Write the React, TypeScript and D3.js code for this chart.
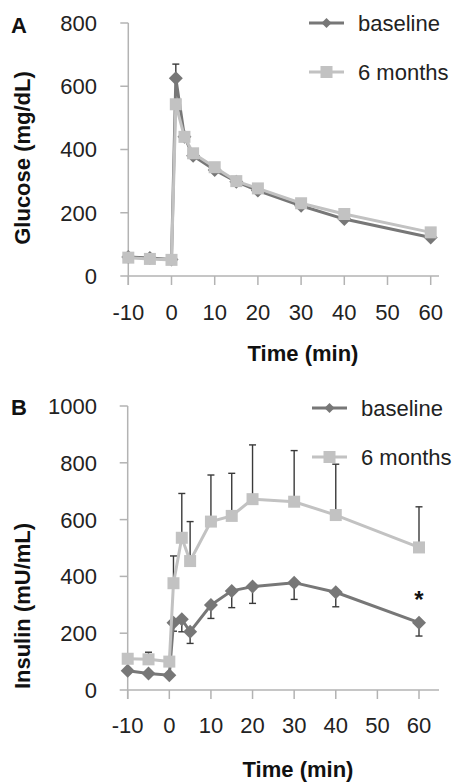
import React from "react";
import * as d3 from "d3";

const times = [-10, -5, 0, 1, 3, 5, 10, 15, 20, 30, 40, 60];
const xTicks = [-10, 0, 10, 20, 30, 40, 50, 60];

const glucoseBaseline = [60, 57, 52, 625, 440, 380, 335, 298, 270, 222, 180, 122];
const glucoseBaselineErr = [4, 12, 4, 45, 8, 8, 8, 8, 8, 8, 8, 8];
const glucose6m = [58, 54, 51, 543, 440, 388, 344, 300, 277, 230, 196, 138];
const glucoseTicks = [0, 200, 400, 600, 800];

const insulinBaseline = [68, 58, 52, 237, 249, 205, 299, 349, 364, 378, 344, 237];
const insulinBaselineErr = [4, 4, 4, 30, 44, 41, 47, 59, 59, 59, 51, 47];
const insulin6m = [110, 108, 100, 376, 536, 454, 593, 613, 672, 663, 616, 502];
const insulin6mErr = [4, 25, 4, 96, 156, 139, 164, 150, 191, 180, 179, 143];
const insulinTicks = [0, 200, 400, 600, 800, 1000];

const seriesNames = ["baseline", "6 months"];

const FONT = "'Liberation Sans', Arial, Helvetica, sans-serif";
const AXIS = "#b3b3b3";
const C_BASE = "#777777";
const C_6M = "#c2c2c2";
const ERR = "#3a3a3a";

type PanelProps = {
  letter: string;
  yLabel: string;
  yTicks: number[];
  yMax: number;
  x0: number;
  x1: number;
  yTop: number;
  yBot: number;
  axisEnd: number;
  base: number[];
  baseErr: number[];
  baseErrDir: number;
  six: number[];
  sixErr: number[] | null;
  letterY: number;
  tickLabelY: number;
  titleY: number;
  titleX: number;
  yLabelX: number;
  yLabelY: number;
  legX0: number;
  legY: number[];
  star?: boolean;
};

function Diamond({ x, y, r, fill }: { x: number; y: number; r: number; fill: string }) {
  return <path d={`M${x},${y - r}L${x + r},${y}L${x},${y + r}L${x - r},${y}Z`} fill={fill} />;
}

function Panel(p: PanelProps) {
  const x = d3.scaleLinear().domain([-10, 60]).range([p.x0, p.x1]);
  const y = d3.scaleLinear().domain([0, p.yMax]).range([p.yBot, p.yTop]);
  const line = d3
    .line<number>()
    .x((_, i) => x(times[i]))
    .y((v) => y(v));
  const cap = 3.5;
  return (
    <g fontFamily={FONT}>
      <text x={11} y={p.letterY} fontSize={22} fontWeight="bold" fill="#111">
        {p.letter}
      </text>
      {/* axes */}
      <line x1={x(-10)} x2={x(-10)} y1={y(p.yMax)} y2={p.yBot + 9} stroke={AXIS} strokeWidth={1.5} />
      <line x1={x(-10)} x2={p.axisEnd} y1={p.yBot} y2={p.yBot} stroke={AXIS} strokeWidth={1.5} />
      {p.yTicks.map((t) => (
        <g key={"yt" + t}>
          <line x1={x(-10) - 8} x2={x(-10)} y1={y(t)} y2={y(t)} stroke={AXIS} strokeWidth={1.5} />
          <text x={97} y={y(t)} dy="0.36em" textAnchor="end" fontSize={22} fill="#222">
            {t}
          </text>
        </g>
      ))}
      {xTicks.map((t) => (
        <g key={"xt" + t}>
          <line x1={x(t)} x2={x(t)} y1={p.yBot} y2={p.yBot + 9} stroke={AXIS} strokeWidth={1.5} />
          <text x={x(t)} y={p.tickLabelY} textAnchor="middle" fontSize={22} fill="#222">
            {t}
          </text>
        </g>
      ))}
      <text x={p.titleX} y={p.titleY} textAnchor="middle" fontSize={22} fontWeight="bold" fill="#111">
        Time (min)
      </text>
      <text
        transform={`translate(${p.yLabelX},${p.yLabelY}) rotate(-90)`}
        textAnchor="middle"
        dy="0.36em"
        fontSize={22}
        fontWeight="bold"
        fill="#111"
      >
        {p.yLabel}
      </text>
      {/* baseline series */}
      {p.base.map((v, i) => {
        const e = p.baseErr[i];
        const yy = y(v + p.baseErrDir * e);
        return (
          <g key={"be" + i}>
            <line x1={x(times[i])} x2={x(times[i])} y1={y(v)} y2={yy} stroke={ERR} strokeWidth={1.4} />
            <line x1={x(times[i]) - cap} x2={x(times[i]) + cap} y1={yy} y2={yy} stroke={ERR} strokeWidth={1.4} />
          </g>
        );
      })}
      <path d={line(p.base) || ""} fill="none" stroke={C_BASE} strokeWidth={3} />
      {p.base.map((v, i) => (
        <Diamond key={"bd" + i} x={x(times[i])} y={y(v)} r={7} fill={C_BASE} />
      ))}
      {/* 6 months series */}
      {p.sixErr &&
        p.six.map((v, i) => {
          const e = p.sixErr![i];
          const yy = y(v + e);
          return (
            <g key={"se" + i}>
              <line x1={x(times[i])} x2={x(times[i])} y1={y(v)} y2={yy} stroke={ERR} strokeWidth={1.4} />
              <line x1={x(times[i]) - cap} x2={x(times[i]) + cap} y1={yy} y2={yy} stroke={ERR} strokeWidth={1.4} />
            </g>
          );
        })}
      <path d={line(p.six) || ""} fill="none" stroke={C_6M} strokeWidth={3} />
      {p.six.map((v, i) => (
        <rect key={"sq" + i} x={x(times[i]) - 6} y={y(v) - 6} width={12} height={12} fill={C_6M} />
      ))}
      {p.star && (
        <text x={x(60)} y={y(p.base[11]) - 15} textAnchor="middle" fontSize={24} fontWeight="bold" fill="#111">
          *
        </text>
      )}
      {/* legend */}
      {seriesNames.map((n, i) => (
        <g key={"lg" + i}>
          <line
            x1={p.legX0}
            x2={p.legX0 + 35}
            y1={p.legY[i]}
            y2={p.legY[i]}
            stroke={i === 0 ? C_BASE : C_6M}
            strokeWidth={3}
          />
          {i === 0 ? (
            <Diamond x={p.legX0 + 17.5} y={p.legY[i]} r={5} fill={C_BASE} />
          ) : (
            <rect x={p.legX0 + 17.5 - 6} y={p.legY[i] - 6} width={12} height={12} fill={C_6M} />
          )}
          <text x={p.legX0 + 49} y={p.legY[i]} dy="0.36em" fontSize={22} fill="#222">
            {n}
          </text>
        </g>
      ))}
    </g>
  );
}

export default function App() {
  return (
    <svg
      width={455}
      height={782}
      style={{ position: "absolute", left: 0, top: 0, background: "#fff" }}
    >
      <rect width={455} height={782} fill="#fff" />
      <Panel
        letter="A"
        yLabel="Glucose (mg/dL)"
        yTicks={glucoseTicks}
        yMax={800}
        x0={128.3}
        x1={430.7}
        yTop={23}
        yBot={276}
        axisEnd={439}
        base={glucoseBaseline}
        baseErr={glucoseBaselineErr}
        baseErrDir={1}
        six={glucose6m}
        sixErr={null}
        letterY={33}
        tickLabelY={320}
        titleY={361}
        titleX={303}
        yLabelX={22}
        yLabelY={158}
        legX0={309}
        legY={[23, 72]}
      />
      <Panel
        letter="B"
        yLabel="Insulin (mU/mL)"
        yTicks={insulinTicks}
        yMax={1000}
        x0={127.7}
        x1={419}
        yTop={406}
        yBot={690}
        axisEnd={439}
        base={insulinBaseline}
        baseErr={insulinBaselineErr}
        baseErrDir={-1}
        six={insulin6m}
        sixErr={insulin6mErr}
        letterY={415}
        tickLabelY={733}
        titleY={777}
        titleX={298}
        yLabelX={22}
        yLabelY={606}
        legX0={312}
        legY={[408, 457]}
        star
      />
    </svg>
  );
}
